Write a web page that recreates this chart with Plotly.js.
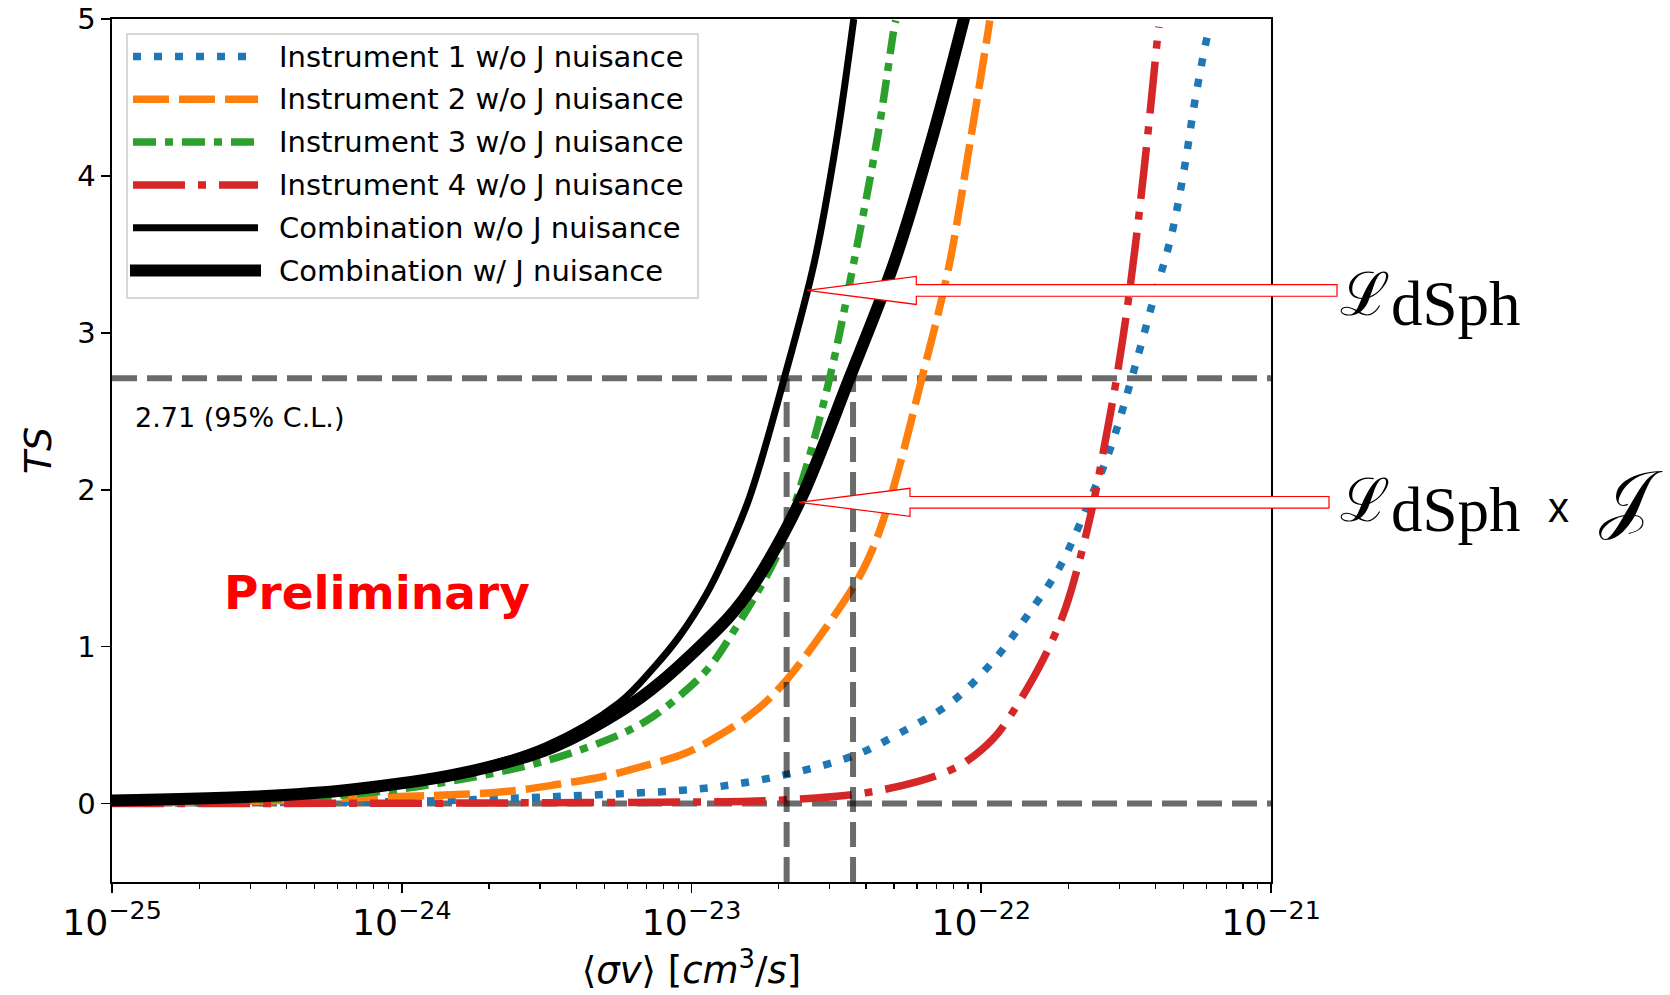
<!DOCTYPE html>
<html>
<head>
<meta charset="utf-8">
<script src="https://cdn.plot.ly/plotly-3.0.1.min.js"></script>
<style>html,body{margin:0;padding:0;background:#fff;}#chart{width:1670px;height:995px;}</style>
</head>
<body>
<div id="chart"></div>
<script>
// ---- data (sigma v in cm^3/s, TS) ----
const inst1X = [1.0e-25, 3.16e-25, 1.0e-24, 1.469e-24, 3.428e-24, 9.33e-24, 1.393e-23, 2.244e-23, 3.715e-23, 5.248e-23, 7.943e-23, 1.114e-22, 1.436e-22, 1.871e-22, 2.371e-22, 2.780e-22, 3.304e-22, 3.926e-22, 4.550e-22, 5.035e-22, 5.470e-22, 6.067e-22, 6.20e-22];
const inst1Y = [0.002, 0.006, 0.013, 0.02, 0.045, 0.085, 0.121, 0.195, 0.312, 0.45, 0.65, 0.92, 1.193, 1.512, 1.936, 2.255, 2.71, 3.21, 3.635, 4.06, 4.484, 4.91, 4.96];

const inst2X = [1.0e-25, 3.16e-25, 6.61e-25, 1.549e-24, 2.344e-24, 3.428e-24, 5.012e-24, 6.823e-24, 9.55e-24, 1.259e-23, 1.660e-23, 2.133e-23, 3.614e-23, 4.169e-23, 4.898e-23, 6.237e-23, 7.727e-23, 9.16e-23, 1.062e-22, 1.070e-22];
const inst2Y = [0.004, 0.015, 0.036, 0.057, 0.078, 0.121, 0.174, 0.238, 0.322, 0.44, 0.59, 0.79, 1.38, 1.6, 1.97, 2.71, 3.42, 4.22, 4.95, 4.99];

const inst3X = [1.0e-25, 3.16e-25, 7.57e-25, 1.589e-24, 3.251e-24, 5.82e-24, 7.38e-24, 9.35e-24, 1.159e-23, 1.432e-23, 1.633e-23, 1.941e-23, 2.104e-23, 2.495e-23, 3.006e-23, 3.606e-23, 4.406e-23, 5.012e-23, 5.07e-23];
const inst3Y = [0.005, 0.025, 0.068, 0.153, 0.28, 0.45, 0.556, 0.705, 0.875, 1.129, 1.30, 1.554, 1.724, 2.149, 2.72, 3.42, 4.27, 4.95, 4.99];

const inst4X = [1.0e-25, 1.0e-24, 3.16e-24, 1.0e-23, 1.585e-23, 2.692e-23, 3.981e-23, 6.026e-23, 7.762e-23, 8.913e-23, 1.096e-22, 1.230e-22, 1.585e-22, 1.905e-22, 2.104e-22, 2.427e-22, 2.673e-22, 2.931e-22, 3.214e-22, 3.443e-22, 3.656e-22, 3.864e-22, 4.074e-22, 4.10e-22];
const inst4Y = [0.0, 0.002, 0.005, 0.01, 0.015, 0.035, 0.068, 0.14, 0.21, 0.27, 0.41, 0.53, 0.87, 1.19, 1.44, 1.90, 2.30, 2.71, 3.20, 3.635, 4.06, 4.484, 4.91, 4.95];

const combNoJX = [1.0e-25, 3.16e-25, 6.61e-25, 1.58e-24, 3.16e-24, 5.62e-24, 7.48e-24, 9.12e-24, 1.122e-23, 1.288e-23, 1.585e-23, 2.089e-23, 2.661e-23, 3.162e-23, 3.631e-23];
const combNoJY = [0.02, 0.045, 0.09, 0.20, 0.37, 0.64, 0.875, 1.07, 1.33, 1.55, 1.95, 2.71, 3.46, 4.22, 5.0];

const combJX = [1.0e-25, 3.16e-25, 6.61e-25, 1.58e-24, 3.236e-24, 5.82e-24, 7.78e-24, 1.321e-23, 1.510e-23, 1.820e-23, 2.399e-23, 3.508e-23, 5.012e-23, 6.839e-23, 8.710e-23, 9.12e-23];
const combJY = [0.02, 0.045, 0.088, 0.19, 0.35, 0.60, 0.77, 1.17, 1.30, 1.53, 1.95, 2.71, 3.45, 4.27, 5.0, 5.15];

const seriesNames = ["Instrument 1 w/o J nuisance", "Instrument 2 w/o J nuisance", "Instrument 3 w/o J nuisance", "Instrument 4 w/o J nuisance", "Combination w/o J nuisance", "Combination w/ J nuisance"];

// reference lines
const clLevel = 2.71;
const limitNoJ = 2.13e-23;
const limitJ = 3.61e-23;
const xRangeExp = [-25, -21];
const yRange = [-0.5, 5];
const yTicks = [0, 1, 2, 3, 4, 5];

// arrow targets on the combination curves
const arrowNoJ = {v: 2.51e-23, t: 3.27};
const arrowJ = {v: 2.35e-23, t: 1.92};

// ---- styles ----
const colors = ["#1f77b4", "#ff7f0e", "#2ca02c", "#d62728", "#000000", "#000000"];
const dashes = ["8px,13px", "36px,10px", "23px,9px,8px,9px", "52px,13px,8px,13px", "solid", "solid"];
const widths = [7.5, 7.5, 7.5, 7.5, 7, 12];
const xs = [inst1X, inst2X, inst3X, inst4X, combNoJX, combJX];
const ys = [inst1Y, inst2Y, inst3Y, inst4Y, combNoJY, combJY];

const refColor = "rgba(0,0,0,0.58)";
const refDash = "25px,10px";
const refWidth = 6;

const traces = [];
[clLevel, 0].forEach(function (lvl) {
  traces.push({x: [Math.pow(10, xRangeExp[0]), Math.pow(10, xRangeExp[1])], y: [lvl, lvl], mode: "lines",
    line: {color: refColor, dash: refDash, width: refWidth}, hoverinfo: "skip", showlegend: false});
});
for (let i = 0; i < xs.length; i++) {
  traces.push({x: xs[i], y: ys[i], name: seriesNames[i], mode: "lines",
    line: {color: colors[i], dash: dashes[i], width: widths[i], shape: "spline", smoothing: 1.0},
    showlegend: false});
}
[limitNoJ, limitJ].forEach(function (v) {
  traces.push({x: [v, v], y: [yRange[0], clLevel], mode: "lines",
    line: {color: refColor, dash: refDash, width: refWidth}, hoverinfo: "skip", showlegend: false});
});

// ---- geometry helpers ----
const W = 1670, H = 995;
const M = {l: 112, r: 399, t: 19, b: 113};
const PW = W - M.l - M.r, PH = H - M.t - M.b;
function pxX(X) { return (X - M.l) / PW; }
function pxY(Y) { return (H - M.b - Y) / PH; }
function dataToPaperX(v) { return (Math.log10(v) - xRangeExp[0]) / (xRangeExp[1] - xRangeExp[0]); }
function dataToPaperY(t) { return (t - yRange[0]) / (yRange[1] - yRange[0]); }

const shapes = [];
const annotations = [];

// legend, matplotlib style
shapes.push({type: "rect", xref: "paper", yref: "paper", x0: pxX(127), x1: pxX(698), y0: pxY(298), y1: pxY(34),
  line: {color: "#cccccc", width: 1.5}, fillcolor: "rgba(255,255,255,0.85)", layer: "above"});
for (let i = 0; i < seriesNames.length; i++) {
  const rowY = pxY(56.5 + i * 42.8);
  const sx0 = i === 5 ? pxX(130) : pxX(133);
  const sx1 = i === 5 ? pxX(261) : pxX(258);
  shapes.push({type: "line", xref: "paper", yref: "paper", x0: sx0, x1: sx1, y0: rowY, y1: rowY,
    line: {color: colors[i], width: widths[i], dash: dashes[i]}, layer: "above"});
  annotations.push({xref: "paper", yref: "paper", x: pxX(277), y: rowY, xanchor: "left", yanchor: "middle",
    text: seriesNames[i], showarrow: false, font: {family: "DejaVu Sans", size: 29, color: "#000"}});
}

// hollow arrows
function arrowPath(tipV, tipT, headLen, shaftEndX) {
  const tx = dataToPaperX(tipV), ty = dataToPaperY(tipT);
  const hx = tx + headLen / PW;
  const ex = pxX(shaftEndX);
  const hh = 14 / PH, sh = 5.8 / PH;
  return "M" + tx + "," + ty + " L" + hx + "," + (ty + hh) + " L" + hx + "," + (ty + sh) +
    " L" + ex + "," + (ty + sh) + " L" + ex + "," + (ty - sh) + " L" + hx + "," + (ty - sh) +
    " L" + hx + "," + (ty - hh) + " Z";
}
shapes.push({type: "path", xref: "paper", yref: "paper", path: arrowPath(arrowNoJ.v, arrowNoJ.t, 109, 1337),
  line: {color: "#ff0000", width: 1.2}, fillcolor: "#ffffff", layer: "above"});
shapes.push({type: "path", xref: "paper", yref: "paper", path: arrowPath(arrowJ.v, arrowJ.t, 111, 1329),
  line: {color: "#ff0000", width: 1.2}, fillcolor: "#ffffff", layer: "above"});

// labels next to arrows
function calL(cy) {
  annotations.push({xref: "paper", yref: "paper", x: pxX(1338), y: pxY(cy), xanchor: "left", yanchor: "middle",
    text: "ℒ", showarrow: false, font: {family: "DejaVu Serif", size: 60, color: "#000"}});
}
function subTxt(cy) {
  annotations.push({xref: "paper", yref: "paper", x: pxX(1389), y: pxY(cy), xanchor: "left", yanchor: "middle",
    text: "dSph", showarrow: false, font: {family: "Liberation Serif", size: 63, color: "#000"}});
}
calL(294); subTxt(304);
calL(500); subTxt(510);
annotations.push({xref: "paper", yref: "paper", x: pxX(1558), y: pxY(507), xanchor: "center", yanchor: "middle",
  text: "x", showarrow: false, font: {family: "Liberation Sans", size: 42, color: "#000"}});
annotations.push({xref: "paper", yref: "paper", x: pxX(1631), y: pxY(497), xanchor: "center", yanchor: "middle",
  text: "𝒥", showarrow: false, font: {family: "DejaVu Serif", size: 76, color: "#000"}});

annotations.push({xref: "paper", yref: "paper", x: pxX(133), y: pxY(417), xanchor: "left", yanchor: "middle",
  text: "2.71 (95% C.L.)", showarrow: false, font: {family: "DejaVu Sans", size: 27, color: "#000"}});
annotations.push({xref: "paper", yref: "paper", x: pxX(377), y: pxY(592), xanchor: "center", yanchor: "middle",
  text: "<b>Preliminary</b>", showarrow: false, font: {family: "DejaVu Sans", size: 47, color: "#ff0000"}});

const layout = {
  width: W, height: H,
  margin: M,
  paper_bgcolor: "#ffffff", plot_bgcolor: "#ffffff",
  showlegend: false,
  font: {family: "DejaVu Sans", size: 29, color: "#000"},
  xaxis: {
    type: "log", range: xRangeExp, dtick: 1, exponentformat: "power",
    showgrid: false, zeroline: false, showline: true, mirror: true, linecolor: "#000", linewidth: 1.6,
    ticks: "outside", ticklen: 9, tickwidth: 1.6, tickcolor: "#000",
    tickfont: {family: "DejaVu Sans", size: 29, color: "#000"},
    minor: {ticks: "outside", ticklen: 5, tickwidth: 1.2, tickcolor: "#000", dtick: "D1", showgrid: false},
    title: {text: "⟨<i>σv</i>⟩ [<i>cm</i><sup>3</sup>/<i>s</i>]", font: {family: "DejaVu Sans", size: 37, color: "#000"}, standoff: 14}
  },
  yaxis: {
    range: yRange, tickvals: yTicks, ticktext: yTicks.map(String),
    showgrid: false, zeroline: false, showline: true, mirror: true, linecolor: "#000", linewidth: 1.6,
    ticks: "outside", ticklen: 9, tickwidth: 1.6, tickcolor: "#000",
    tickfont: {family: "DejaVu Sans", size: 29, color: "#000"},
    title: {text: "<i>TS</i>", font: {family: "DejaVu Sans", size: 38, color: "#000"}, standoff: 14}
  },
  shapes: shapes,
  annotations: annotations
};

Plotly.newPlot("chart", traces, layout, {displayModeBar: false, staticPlot: true});
</script>
</body>
</html>
